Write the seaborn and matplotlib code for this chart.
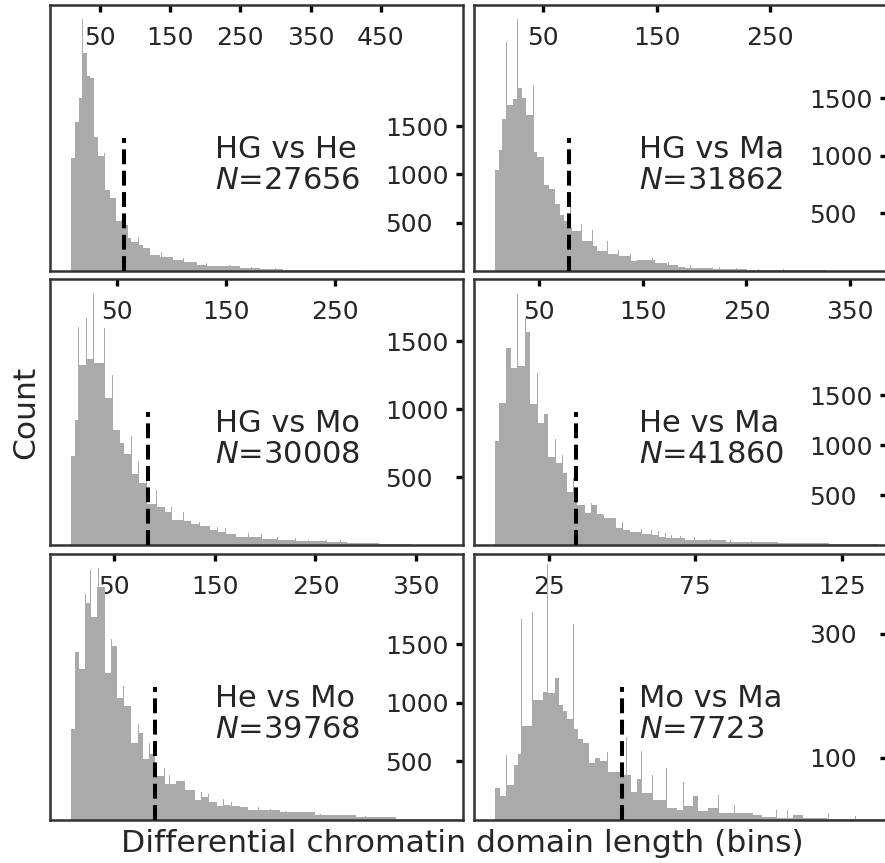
import matplotlib
matplotlib.use("Agg")
import matplotlib.pyplot as plt
import pandas as pd
import seaborn as sns

# ---------------- domain-length histograms (counts per length bin) ----------------
# HG vs He
hg_he_edges = [8.5, 14.2, 19.8, 25.3, 31.0, 36.5, 42.0, 47.5, 53.0, 56.0,
               64.0, 73.6, 81.0, 89.4, 95.0, 104.6, 111.7, 121.0, 135.5, 154.4,
               168.7, 187.6, 202.0, 249.0, 278.0, 311.0, 345.0, 382.0, 420.0, 460.0,
               500.0, 540.0]
hg_he_counts = [1173, 1546, 1788, 2254, 2022, 2000, 1390, 1190, 1190, 838,
                752, 521, 476, 345, 303, 269, 235, 166, 148, 114,
                90, 62, 52, 32, 22, 15, 10, 6, 3, 2, 1]
hg_he_spike_x = [25.3, 56.0, 104.6, 137.7, 168.7, 202.0, 234.0, 266.0, 300.0, 335.0, 382.0]
hg_he_spike_n = [2605, 1218, 355, 193, 131, 80, 60, 40, 26, 15, 10]
hg_he_cut = 85.0
hg_he_n = 27656

# HG vs Ma
hg_ma_edges = [7.3, 10.9, 13.8, 17.6, 23.5, 27.3, 30.9, 34.4, 41.2, 44.7,
               50.6, 55.0, 60.3, 64.7, 68.2, 73.0, 75.0, 83.8, 93.5, 97.0,
               106.7, 116.2, 126.5, 132.3, 148.5, 158.8, 169.1, 175.0, 200.0, 230.0,
               260.0, 300.0, 340.0]
hg_ma_counts = [875, 1050, 1320, 1442, 1495, 1587, 1503, 1358, 1029, 991,
                747, 709, 578, 485, 433, 374, 345, 264, 214, 177,
                147, 127, 90, 95, 69, 49, 35, 28, 18, 12, 6, 2]
hg_ma_spike_x = [17.6, 27.3, 41.2, 50.6, 60.3, 74.0, 83.8, 93.5, 106.7, 116.2,
                 126.5, 146.5, 160.0, 180.0, 205.0, 220.0, 240.0, 262.0, 285.0]
hg_ma_spike_n = [1989, 2184, 1611, 1160, 834, 560, 412, 360, 258, 186,
                 150, 115, 80, 50, 32, 25, 20, 15, 10]
hg_ma_cut = 72.9
hg_ma_n = 31862

# HG vs Mo
hg_mo_edges = [8.2, 11.8, 14.9, 21.9, 28.6, 38.7, 46.3, 53.0, 56.7, 63.1,
               69.8, 77.4, 86.6, 94.2, 100.4, 111.0, 118.0, 125.6, 135.4, 142.1,
               149.2, 159.2, 170.5, 182.8, 197.0, 214.0, 241.7, 261.0, 290.0, 320.0,
               355.0]
hg_mo_counts = [659, 920, 1330, 1374, 1343, 1086, 849, 750, 671, 525,
                457, 305, 281, 244, 185, 175, 152, 139, 108, 95,
                78, 61, 56, 45, 35, 27, 20, 12, 7, 3]
hg_mo_spike_x = [14.9, 21.9, 28.6, 38.7, 46.3, 53.0, 63.1, 69.8, 77.4, 86.6,
                 94.2, 100.4, 111.0, 118.0, 125.6, 135.4, 142.1, 149.2, 159.2, 170.5,
                 182.8, 197.0, 204.0, 214.0, 225.5, 241.7, 254.5]
hg_mo_spike_n = [1603, 1672, 1855, 1599, 1252, 1050, 801, 618, 525, 403,
                 354, 281, 244, 208, 171, 171, 134, 127, 98, 86,
                 78, 61, 54, 49, 40, 37, 37]
hg_mo_cut = 78.4
hg_mo_n = 30008

# He vs Ma
he_ma_edges = [7.5, 11.4, 18.1, 23.0, 29.4, 37.1, 41.3, 48.3, 54.8, 59.0,
               66.0, 72.8, 76.6, 83.1, 86.9, 94.3, 100.7, 106.2, 112.0, 123.9,
               130.3, 137.7, 149.0, 158.6, 165.0, 171.5, 190.8, 230.0, 280.0, 330.0,
               378.0]
he_ma_counts = [1043, 1423, 1973, 1767, 1793, 2127, 1407, 1223, 1307, 883,
                817, 717, 533, 520, 400, 317, 400, 307, 273, 173,
                150, 133, 107, 100, 83, 73, 55, 33, 17, 7]
he_ma_spike_x = [11.4, 22.0, 29.4, 37.1, 48.3, 54.8, 66.0, 72.8, 83.1, 94.3,
                 100.7, 112.0, 130.3, 137.7, 149.0, 158.6, 165.0, 171.5, 178.0, 186.0,
                 200.0, 215.0, 235.0, 255.0, 275.0, 300.0, 330.0]
he_ma_spike_n = [1610, 2127, 2507, 2267, 1723, 1367, 1060, 900, 673, 527,
                 417, 300, 227, 200, 160, 150, 140, 120, 100, 90,
                 80, 65, 50, 40, 30, 20, 12]
he_ma_cut = 85.6
he_ma_n = 41860

# He vs Mo
he_mo_edges = [7.2, 11.2, 15.2, 21.8, 26.8, 32.7, 41.0, 47.6, 53.3, 59.2,
               66.8, 74.1, 79.1, 85.0, 90.7, 99.9, 105.6, 111.5, 120.5, 130.4,
               137.0, 143.6, 151.9, 158.5, 165.1, 175.1, 183.4, 194.9, 214.8, 250.0,
               290.0, 330.0, 370.0, 400.0]
he_mo_counts = [775, 1431, 1289, 1854, 1734, 1990, 1257, 1485, 1039, 976,
                656, 741, 522, 565, 371, 307, 307, 329, 258, 167,
                196, 150, 116, 130, 116, 111, 82, 88, 65, 42, 24, 12, 5]
he_mo_spike_x = [15.2, 21.8, 26.8, 34.5, 47.6, 59.2, 74.1, 85.0, 99.9, 105.0,
                 111.5, 130.4, 137.0, 143.6, 158.5, 167.0, 175.1, 185.0, 193.0, 205.0,
                 220.0, 238.0, 255.0, 275.0, 300.0, 330.0, 360.0]
he_mo_spike_n = [1678, 1928, 2135, 2152, 1542, 1144, 820, 656, 443, 380,
                 400, 280, 238, 220, 180, 150, 140, 120, 110, 95,
                 80, 65, 55, 45, 30, 20, 10]
he_mo_cut = 90.7
he_mo_n = 39768

# Mo vs Ma
mo_ma_edges = [6.66, 8.36, 10.64, 13.25, 14.39, 15.75, 19.51, 23.15, 24.63, 27.13,
               28.49, 29.75, 31.11, 33.39, 35.10, 36.57, 38.73, 40.78, 42.49, 45.11,
               47.61, 49.88, 51.59, 52.96, 55.23, 56.71, 60.35, 65.24, 68.66, 70.93,
               74.35, 76.05, 79.47, 82.88, 85.15, 89.1, 94.8, 97.7, 102.8, 108.5,
               111.9, 119.8, 128.9, 139.8]
mo_ma_counts = [51, 39, 56, 89, 107, 152, 193, 206, 204, 228,
                185, 176, 162, 146, 130, 124, 92, 100, 95, 77,
                77, 73, 73, 45, 66, 43, 32, 19, 16, 22,
                38, 15, 19, 12, 11, 11, 8, 5, 3, 8, 3, 2, 1]
mo_ma_spike_x = [10.64, 15.75, 19.51, 24.63, 28.49, 33.39, 38.73, 42.49, 45.11, 47.61,
                 51.59, 56.71, 60.35, 65.24, 70.93, 82.88, 88.3, 92.3, 97.4, 102.6,
                 106.5, 120.4, 129.5]
mo_ma_spike_n = [104, 324, 335, 412, 405, 316, 254, 192, 110, 150,
                 133, 111, 73, 84, 62, 41, 24, 20, 22, 16, 16, 11, 6]
mo_ma_cut = 49.9
mo_ma_n = 7723

titles = ["HG vs He", "HG vs Ma", "HG vs Mo", "He vs Ma", "He vs Mo", "Mo vs Ma"]
x_ticks = [[50, 150, 250, 350, 450], [50, 150, 250], [50, 150, 250],
           [50, 150, 250, 350], [50, 150, 250, 350], [25, 75, 125]]
y_ticks = [[500, 1000, 1500]] * 5 + [[100, 300]]

panels = [
    (hg_he_edges, hg_he_counts, hg_he_spike_x, hg_he_spike_n, hg_he_cut, hg_he_n),
    (hg_ma_edges, hg_ma_counts, hg_ma_spike_x, hg_ma_spike_n, hg_ma_cut, hg_ma_n),
    (hg_mo_edges, hg_mo_counts, hg_mo_spike_x, hg_mo_spike_n, hg_mo_cut, hg_mo_n),
    (he_ma_edges, he_ma_counts, he_ma_spike_x, he_ma_spike_n, he_ma_cut, he_ma_n),
    (he_mo_edges, he_mo_counts, he_mo_spike_x, he_mo_spike_n, he_mo_cut, he_mo_n),
    (mo_ma_edges, mo_ma_counts, mo_ma_spike_x, mo_ma_spike_n, mo_ma_cut, mo_ma_n),
]

# axis windows for each panel
x_lims = [(-21, 567), (-11.1, 353), (-11.1, 367), (-12.7, 385.5), (-13.6, 396.5), (-0.5, 140.4)]
y_lims = [(0, 2754), (0, 2309), (0, 1960), (0, 2660), (0, 2268), (0, 428.6)]

# ---------------- figure ----------------
sns.set_style("white")
plt.rcParams["font.family"] = ["DejaVu Sans"]
plt.rcParams["mathtext.fontset"] = "dejavusans"
text_color = "#262626"
bar_color = "#aaaaaa"

fig = plt.figure(figsize=(8.85, 8.63), dpi=100)
W, H = 885.0, 863.0
col_left = [50, 474]
col_w = 413
row_top = [5, 279, 554]
row_h = 266

for i, (edges, counts, sx, sn, cut, n) in enumerate(panels):
    r, c = divmod(i, 2)
    ax = fig.add_axes([col_left[c] / W, 1 - (row_top[r] + row_h) / H, col_w / W, row_h / H])

    # narrow single-length bins that stand out above the neighbouring bars
    x0, x1 = x_lims[i]
    eps = (x1 - x0) * 0.0011
    spikes = pd.DataFrame({"length": sx, "count": sn})
    spike_edges = sorted([v - eps for v in sx] + [v + eps for v in sx])
    sns.histplot(data=spikes, x="length", weights="count", bins=spike_edges, ax=ax,
                 element="step", fill=True, color=bar_color, alpha=1, linewidth=0,
                 zorder=1)

    mids = [(a + b) / 2 for a, b in zip(edges[:-1], edges[1:])]
    bars = pd.DataFrame({"length": mids, "count": counts})
    sns.histplot(data=bars, x="length", weights="count", bins=list(edges), ax=ax,
                 element="step", fill=True, color=bar_color, alpha=1, linewidth=0,
                 zorder=2)

    ax.axvline(cut, ymin=0, ymax=0.5, color="black", lw=2.9, ls="--", zorder=5)

    ax.set_xlim(*x_lims[i])
    ax.set_ylim(*y_lims[i])
    ax.set_xticks(x_ticks[i])
    ax.set_yticks(y_ticks[i])
    ax.set_xlabel("")
    ax.set_ylabel("")

    ax.xaxis.tick_top()
    ax.yaxis.tick_right()
    ax.tick_params(axis="x", direction="in", length=5, width=2.4, color="black",
                   pad=-32.5, labelsize=18, labelcolor=text_color,
                   top=True, bottom=False, labeltop=True, labelbottom=False)
    ax.tick_params(axis="y", direction="in", length=5, width=2.4, color="black",
                   pad=-56, labelsize=18, labelcolor=text_color,
                   right=True, left=False, labelright=True, labelleft=False)
    for s in ax.spines.values():
        s.set_visible(True)
        s.set_linewidth(1.8)
        s.set_color("#333333")

    ax.text(0.40, 0.513, f"{titles[i]}\n$N$={n}", transform=ax.transAxes,
            ha="left", va="top", fontsize=22, linespacing=1.12, color=text_color)

fig.text(0.029, 0.522, "Count", rotation=90, ha="center", va="center",
         fontsize=22.6, color=text_color)
fig.text(0.522, 0.023, "Differential chromatin domain length (bins)",
         ha="center", va="center", fontsize=22.6, color=text_color)

fig.savefig("out.png", dpi=100)
